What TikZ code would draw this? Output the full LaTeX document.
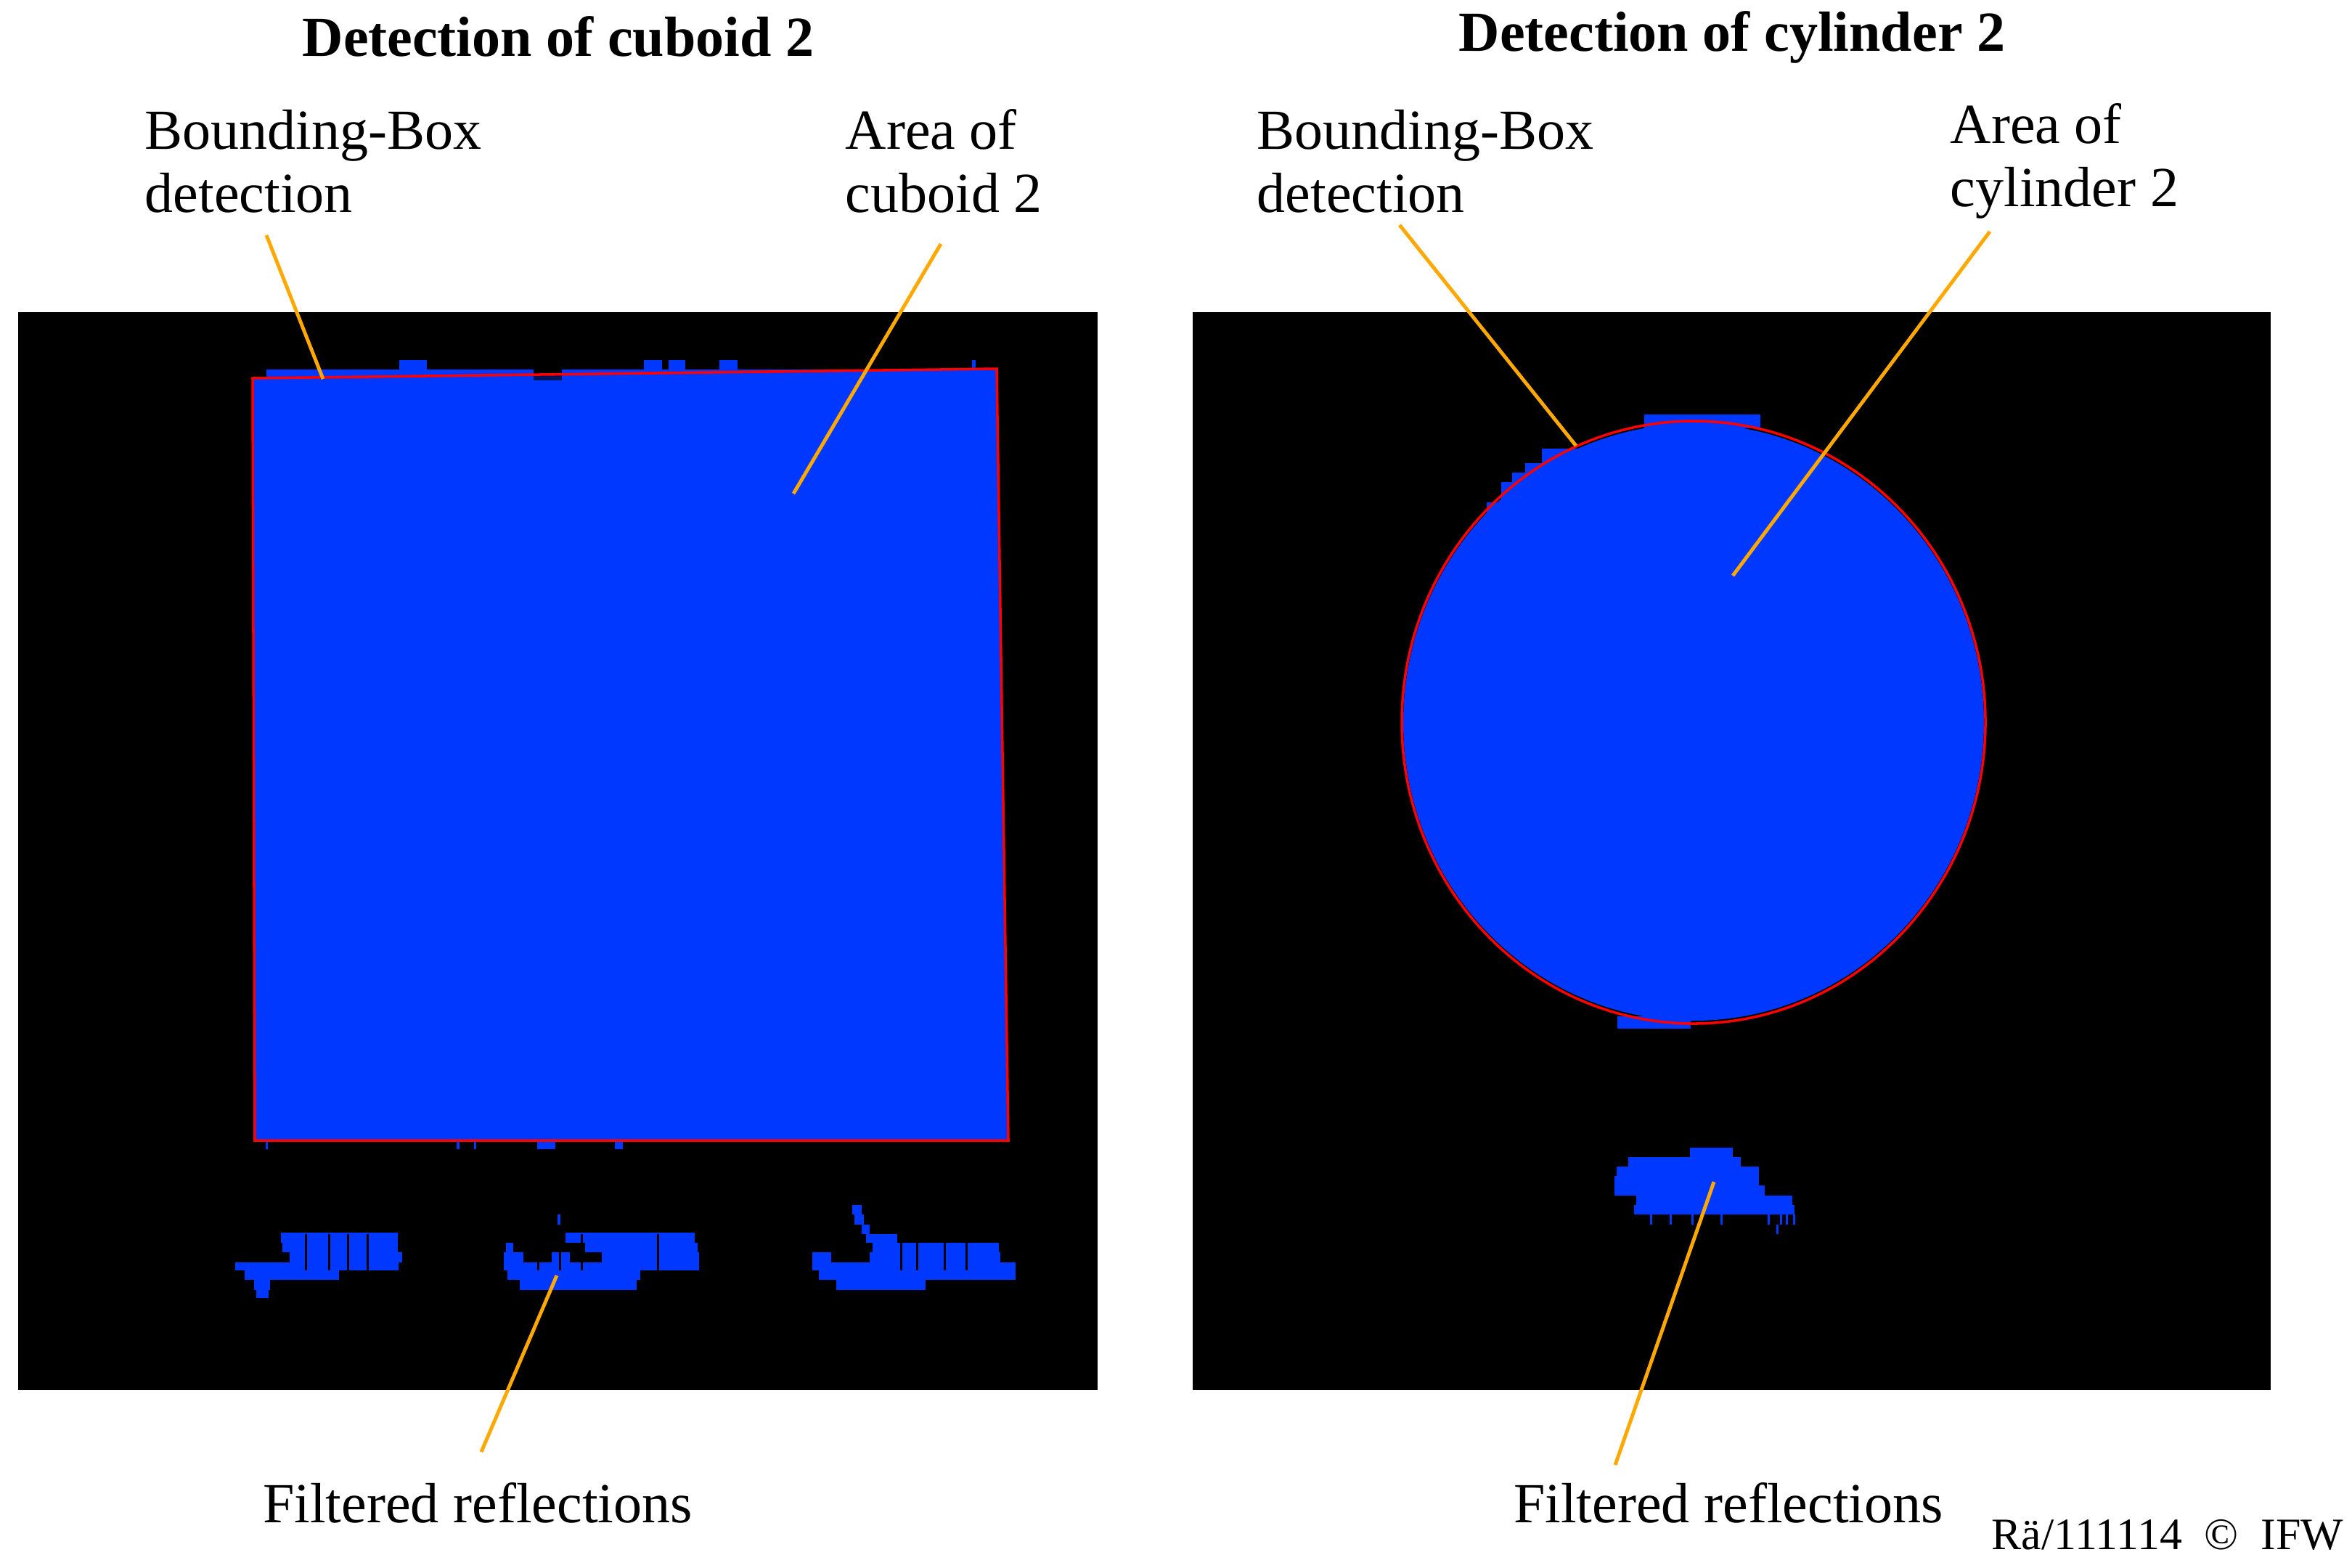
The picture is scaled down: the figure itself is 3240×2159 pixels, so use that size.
\documentclass[tikz,border=0pt]{standalone}
\usepackage{fontspec}
\setmainfont{Liberation Serif}
\definecolor{segblue}{RGB}{0,56,255}
\definecolor{bbred}{RGB}{255,0,0}
\definecolor{leadorange}{RGB}{255,168,0}
\definecolor{darknavy}{RGB}{0,20,90}
\begin{document}
\begin{tikzpicture}[x=0.01cm,y=-0.01cm,
  lbl/.style={inner sep=0pt, anchor=base west, align=left, font=\fontsize{22.2}{24.5}\selectfont},
  ttl/.style={inner sep=0pt, anchor=base, font=\fontsize{22.2}{24.5}\selectfont\bfseries},
  lead/.style={draw=leadorange, line width=1.4pt},
  bbox/.style={draw=bbred, line width=1pt},
  seg/.style={fill=segblue},
  panel/.style={fill=black}]
\useasboundingbox (0,0) rectangle (3240,2159);
\fill[white] (0,0) rectangle (3240,2159);
% panels
\path[panel] (25,430) rectangle (1512,1915);
\path[panel] (1643,430) rectangle (3128,1915);
% ---- cuboid segmentation
\path[seg] (348,521) -- (1373,508) -- (1389,1571) -- (351,1571) -- cycle;
\path[seg] (367,509) rectangle (735,521);
\path[seg] (774,509) rectangle (1142,516);
\path[seg] (550,496) rectangle (588,509);
\path[seg] (887,496) rectangle (912,509);
\path[seg] (921,496) rectangle (944,509);
\path[seg] (991,496) rectangle (1016,509);
\path[seg] (1339,496) rectangle (1344,508);
\fill[darknavy] (735,516) rectangle (774,524);
\path[seg] (366,1571) rectangle (369,1583);
\path[seg] (629,1571) rectangle (633,1583);
\path[seg] (653,1571) rectangle (656,1583);
\path[seg] (740,1571) rectangle (765,1583);
\path[seg] (847,1571) rectangle (858,1583);
\draw[bbox] (348,521) -- (1373,508) -- (1389,1571) -- (351,1571) -- cycle;
% ---- reflections left 1
\path[seg] (387,1698) rectangle (548,1712);
\path[seg] (389,1712) rectangle (548,1725);
\path[seg] (399,1725) rectangle (554,1739);
\path[seg] (324,1739) rectangle (549,1750);
\path[seg] (337,1750) rectangle (467,1763);
\path[seg] (350,1763) rectangle (372,1777);
\path[seg] (353,1777) rectangle (370,1788);
% reflections left 2
\path[seg] (768,1673) rectangle (772,1687);
\path[seg] (779,1698) rectangle (957,1712);
\path[seg] (697,1712) rectangle (707,1725);
\path[seg] (806,1712) rectangle (961,1725);
\path[seg] (694,1725) rectangle (721,1739);
\path[seg] (760,1725) rectangle (785,1739);
\path[seg] (829,1725) rectangle (963,1739);
\path[seg] (694,1739) rectangle (963,1750);
\path[seg] (699,1750) rectangle (882,1763);
\path[seg] (716,1763) rectangle (877,1777);
% reflections left 3
\path[seg] (1174,1660) rectangle (1187,1673);
\path[seg] (1177,1673) rectangle (1190,1687);
\path[seg] (1187,1687) rectangle (1198,1700);
\path[seg] (1193,1700) rectangle (1236,1712);
\path[seg] (1202,1712) rectangle (1376,1725);
\path[seg] (1119,1725) rectangle (1145,1739);
\path[seg] (1198,1725) rectangle (1378,1739);
\path[seg] (1119,1739) rectangle (1399,1750);
\path[seg] (1128,1750) rectangle (1399,1763);
\path[seg] (1152,1763) rectangle (1275,1777);
% sparse dark gaps
\foreach \gx in {420,452,478,505,740,770,800,905,1240,1262,1300,1330}
  \fill[black] (\gx,1700) rectangle ++(3,50);
% ---- cylinder segmentation
\path[seg] (2333,995) ellipse [x radius=400, y radius=411];
\path[seg] (2265,571) rectangle (2425,590);
\path[seg] (2228,1400) rectangle (2329,1417);
\path[seg] (2124,618) rectangle (2175,640);
\path[seg] (2101,638) rectangle (2150,660);
\path[seg] (2083,651) rectangle (2130,680);
\path[seg] (2068,664) rectangle (2110,700);
\path[seg] (2048,692) rectangle (2090,730);
\draw[bbox] (2333,995) ellipse [x radius=402, y radius=415];
% reflection right
\path[seg] (2328,1581) rectangle (2387,1594);
\path[seg] (2243,1594) rectangle (2398,1607);
\path[seg] (2227,1607) rectangle (2423,1620);
\path[seg] (2224,1620) rectangle (2423,1633);
\path[seg] (2224,1633) rectangle (2431,1647);
\path[seg] (2254,1647) rectangle (2469,1660);
\path[seg] (2251,1660) rectangle (2472,1673);
\foreach \gx in {2273,2300,2330,2370,2435,2452,2460,2470}
  \path[seg] (\gx,1673) rectangle ++(3,14);
\path[seg] (2447,1687) rectangle (2450,1700);
% ---- titles and labels
\node[ttl] (t1) at (769,77) {Detection of cuboid 2};
\node[ttl] (t2) at (2386,70) {Detection of cylinder 2};
\node[lbl] (bb1) at (199,292) {Bounding-Box\\detection};
\node[lbl] (ar1) at (1164,292) {Area of\\cuboid 2};
\node[lbl] (bb2) at (1731,292) {Bounding-Box\\detection};
\node[lbl] (ar2) at (2686,284) {Area of\\cylinder 2};
\node[ttl, font=\fontsize{22.2}{24.5}\selectfont] (fr1) at (658,2097) {Filtered reflections};
\node[ttl, font=\fontsize{22.2}{24.5}\selectfont] (fr2) at (2381,2097) {Filtered reflections};
\node[inner sep=0pt, anchor=base east, font=\fontsize{17.6}{19}\selectfont] (cpy) at (3229,2134) {Rä/111114\enspace ©\enspace IFW};
% ---- leader lines
\coordinate (bb1s) at (367,324);  \coordinate (bb1e) at (445,522);
\coordinate (ar1s) at (1296,336); \coordinate (ar1e) at (1093,680);
\coordinate (fr1s) at (663,2000); \coordinate (fr1e) at (767,1757);
\coordinate (bb2s) at (1928,310); \coordinate (bb2e) at (2171,614);
\coordinate (ar2s) at (2741,319); \coordinate (ar2e) at (2387,793);
\coordinate (fr2s) at (2225,2018); \coordinate (fr2e) at (2361,1628);
\draw[lead] (bb1s) -- (bb1e);
\draw[lead] (ar1s) -- (ar1e);
\draw[lead] (fr1s) -- (fr1e);
\draw[lead] (bb2s) -- (bb2e);
\draw[lead] (ar2s) -- (ar2e);
\draw[lead] (fr2s) -- (fr2e);
\end{tikzpicture}
\end{document}
